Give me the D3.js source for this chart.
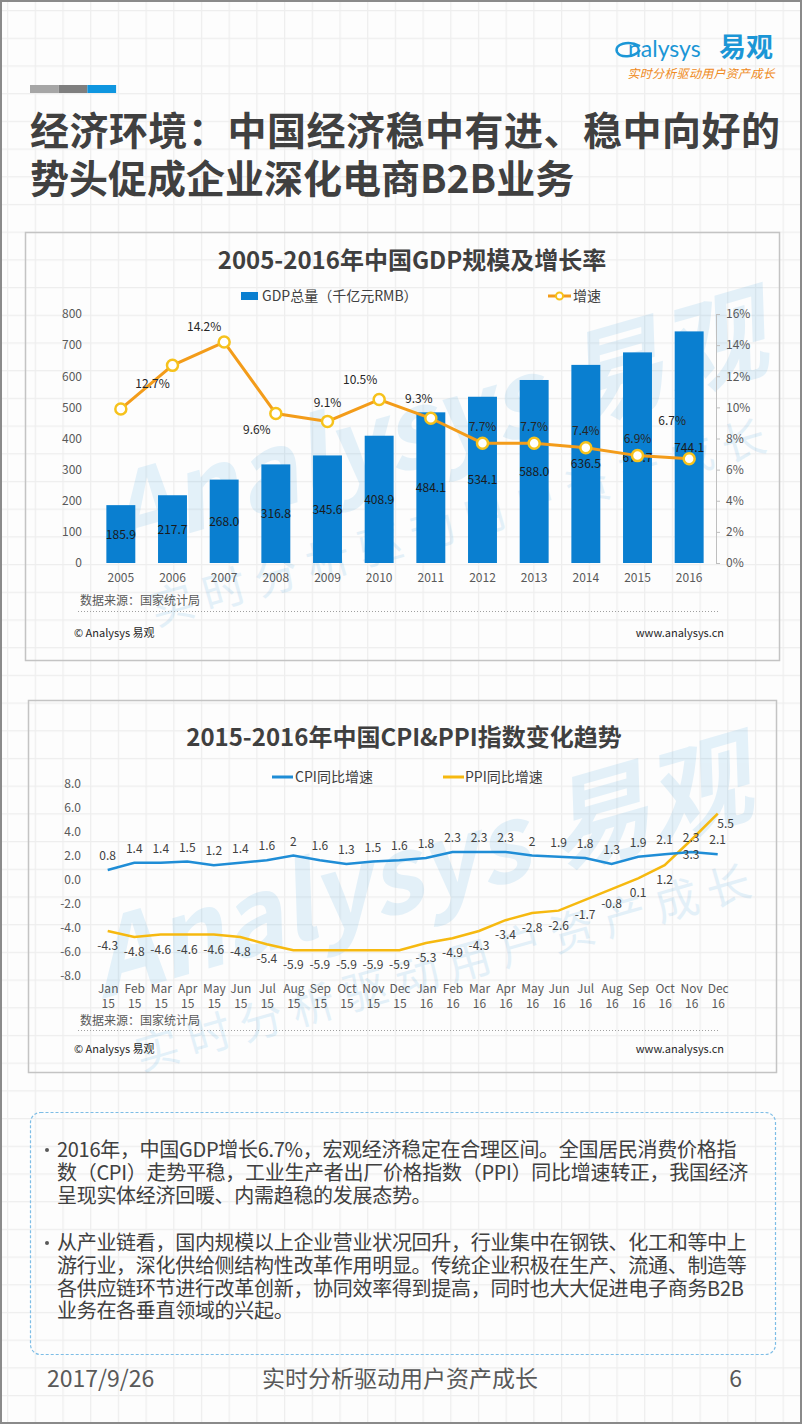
<!DOCTYPE html>
<html>
<head>
<meta charset="utf-8">
<script src="https://cdn.jsdelivr.net/npm/d3@7"></script>
<style>
  body { margin: 0; background: #fdfdfd; }
  svg { display: block; font-family: "Noto Sans CJK SC", "Noto Sans", sans-serif; }
</style>
</head>
<body>
<div id="page"></div>
<script>
// ---- data: GDP chart ----
const years = ["2005", "2006", "2007", "2008", "2009", "2010", "2011", "2012", "2013", "2014", "2015", "2016"];
const gdp = [185.9, 217.7, 268.0, 316.8, 345.6, 408.9, 484.1, 534.1, 588.0, 636.5, 676.7, 744.1];
const growth = [9.9, 12.7, 14.2, 9.6, 9.1, 10.5, 9.3, 7.7, 7.7, 7.4, 6.9, 6.7];
const gdpTicks = [0, 100, 200, 300, 400, 500, 600, 700, 800];
const growthTicks = [0, 2, 4, 6, 8, 10, 12, 14, 16];

// ---- data: CPI / PPI chart ----
const months = ["Jan 15", "Feb 15", "Mar 15", "Apr 15", "May 15", "Jun 15", "Jul 15", "Aug 15",
  "Sep 15", "Oct 15", "Nov 15", "Dec 15", "Jan 16", "Feb 16", "Mar 16", "Apr 16", "May 16",
  "Jun 16", "Jul 16", "Aug 16", "Sep 16", "Oct 16", "Nov 16", "Dec 16"];
const cpi = [0.8, 1.4, 1.4, 1.5, 1.2, 1.4, 1.6, 2, 1.6, 1.3, 1.5, 1.6, 1.8, 2.3, 2.3, 2.3, 2, 1.9, 1.8, 1.3, 1.9, 2.1, 2.3, 2.1];
const ppi = [-4.3, -4.8, -4.6, -4.6, -4.6, -4.8, -5.4, -5.9, -5.9, -5.9, -5.9, -5.9, -5.3, -4.9, -4.3, -3.4, -2.8, -2.6, -1.7, -0.8, 0.1, 1.2, 3.3, 5.5];
const indexTicks = [-8, -6, -4, -2, 0, 2, 4, 6, 8];

// label placement for the growth line (dx, dy from the point), null = no label
const growthLabelOffset = [null, [-20, 18], [-20, -16], [-19, 16], [0, -19], [-19, -20],
  [-12, -20], [0, -17], [0, -17], [0, -17], [0, -17], [-17, -38]];

const W = 802, H = 1424;
const textDark = "#404040", textGrey = "#595959";

const svg = d3.select("#page").append("svg")
  .attr("width", W)
  .attr("height", H);

// graph paper background
const defs = svg.append("defs");
const pat = defs.append("pattern")
  .attr("id", "paper")
  .attr("patternUnits", "userSpaceOnUse")
  .attr("x", 7).attr("y", 10)
  .attr("width", 27.7).attr("height", 27.7);
pat.append("rect").attr("width", 27.7).attr("height", 27.7).attr("fill", "#fdfdfd");
pat.append("path").attr("d", "M0,0V27.7M0,0H27.7").attr("stroke", "#eeeeee").attr("stroke-width", 2.5);

svg.append("rect").attr("width", W).attr("height", H).attr("fill", "url(#paper)");
svg.append("rect")
  .attr("x", 1).attr("y", 1).attr("width", W - 2).attr("height", H - 2)
  .attr("fill", "none").attr("stroke", "#8a8a8a").attr("stroke-width", 2);

// ---- header ----
const logo = svg.append("g");
logo.append("path")
  .attr("d", "M640,46 C628,40 614,44 617,52 C620,58 634,58 640,50")
  .attr("fill", "none").attr("stroke", "#1b96d6").attr("stroke-width", 2.5);
logo.append("text")
  .attr("x", 628).attr("y", 57)
  .attr("font-family", "Lato, 'Open Sans', sans-serif")
  .attr("font-size", 23).attr("fill", "#1b96d6")
  .text("nalysys");
logo.append("text")
  .attr("x", 719).attr("y", 57)
  .attr("font-size", 27).attr("font-weight", 700).attr("fill", "#1b96d6")
  .text("易观");
logo.append("text")
  .attr("x", 775).attr("y", 78)
  .attr("text-anchor", "end")
  .attr("font-size", 12).attr("font-style", "italic").attr("fill", "#ef8a21")
  .attr("letter-spacing", 0.3)
  .text("实时分析驱动用户资产成长");

const barColors = ["#a6a6a6", "#7f7f7f", "#0f96e0"];
barColors.forEach((c, i) => {
  svg.append("rect")
    .attr("x", 30 + i * 28.7).attr("y", 85)
    .attr("width", 28.7).attr("height", 8)
    .attr("fill", c);
});

svg.append("text")
  .attr("x", 30).attr("y", 145)
  .attr("font-size", 39).attr("font-weight", 700).attr("fill", textDark)
  .attr("textLength", 750)
  .text("经济环境：中国经济稳中有进、稳中向好的");
svg.append("text")
  .attr("x", 30).attr("y", 193)
  .attr("font-size", 39).attr("font-weight", 700).attr("fill", textDark)
  .text("势头促成企业深化电商B2B业务");

// ---- helpers ----
function panel(x, y, w, h, id) {
  defs.append("clipPath").attr("id", id)
    .append("rect").attr("x", x).attr("y", y).attr("width", w).attr("height", h);
  svg.append("rect")
    .attr("x", x).attr("y", y).attr("width", w).attr("height", h)
    .attr("fill", "none").attr("stroke", "#c4c4c4").attr("stroke-width", 1.5);
}

function watermark(cx, cy, clipId) {
  const g = svg.append("g")
    .attr("clip-path", `url(#${clipId})`)
    .append("g")
    .attr("transform", `translate(${cx},${cy}) rotate(-16)`)
    .attr("fill", "#1a8fd6")
    .attr("opacity", 0.11);
  g.append("text")
    .attr("text-anchor", "middle")
    .attr("font-size", 104).attr("font-weight", 700).attr("font-style", "italic")
    .text("Analysys 易观");
  g.append("text")
    .attr("y", 80)
    .attr("text-anchor", "middle")
    .attr("font-size", 44).attr("letter-spacing", 10)
    .text("实时分析驱动用户资产成长");
}

function footer(ySource, yLine, yCopy) {
  svg.append("text")
    .attr("x", 80).attr("y", ySource)
    .attr("font-size", 12).attr("fill", textGrey)
    .text("数据来源：国家统计局");
  svg.append("line")
    .attr("x1", 78).attr("x2", 720).attr("y1", yLine).attr("y2", yLine)
    .attr("stroke", "#a0a0a0").attr("stroke-dasharray", "1,2");
  svg.append("text")
    .attr("x", 74).attr("y", yCopy)
    .attr("font-size", 11).attr("fill", "#262626")
    .text("© Analysys 易观");
  svg.append("text")
    .attr("x", 724).attr("y", yCopy)
    .attr("text-anchor", "end")
    .attr("font-size", 11).attr("fill", "#262626")
    .text("www.analysys.cn");
}

function styleAxisText(g, size, color) {
  g.selectAll("text")
    .attr("font-size", size)
    .attr("fill", color)
    .attr("font-family", "'Noto Sans CJK SC', 'Noto Sans', sans-serif");
}

// ---- chart 1: GDP ----
panel(25.5, 232.5, 754, 428, "clip1");
watermark(445, 460, "clip1");

svg.append("text")
  .attr("x", 412).attr("y", 269)
  .attr("text-anchor", "middle")
  .attr("font-size", 24).attr("font-weight", 700).attr("fill", "#3f3f3f")
  .text("2005-2016年中国GDP规模及增长率");

const barBlue = "#0a7fd0", lineOrange = "#f39c1a", markerYellow = "#f6c21c";

// legend
svg.append("rect").attr("x", 241).attr("y", 292).attr("width", 17).attr("height", 8).attr("fill", barBlue);
svg.append("text").attr("x", 262).attr("y", 301)
  .attr("font-size", 14).attr("fill", textDark)
  .text("GDP总量（千亿元RMB）");
svg.append("line").attr("x1", 548).attr("x2", 571).attr("y1", 296).attr("y2", 296)
  .attr("stroke", lineOrange).attr("stroke-width", 3);
svg.append("circle").attr("cx", 559.5).attr("cy", 296).attr("r", 3.5)
  .attr("fill", "#fff").attr("stroke", markerYellow).attr("stroke-width", 2);
svg.append("text").attr("x", 573).attr("y", 301)
  .attr("font-size", 14).attr("fill", textDark)
  .text("增速");

const x1 = d3.scaleBand().domain(years).range([95, 715]).paddingInner(0.44).paddingOuter(0.22);
const yL = d3.scaleLinear().domain([0, 800]).range([563, 314]);
const yR = d3.scaleLinear().domain([0, 16]).range([563, 314]);

const axL = svg.append("g")
  .attr("transform", "translate(82,0)")
  .call(d3.axisLeft(yL).tickValues(gdpTicks).tickSize(0).tickPadding(0));
axL.select(".domain").remove();
styleAxisText(axL, 12, textGrey);

const axR = svg.append("g")
  .attr("transform", "translate(716,0)")
  .call(d3.axisRight(yR).tickValues(growthTicks).tickFormat(d => d + "%").tickSize(4).tickSizeOuter(0).tickPadding(6));
axR.select(".domain").attr("stroke", "#bfbfbf");
axR.selectAll(".tick line").attr("stroke", "#bfbfbf");
styleAxisText(axR, 12, textGrey);

const axX1 = svg.append("g")
  .attr("transform", "translate(0,563)")
  .call(d3.axisBottom(x1).tickSize(0).tickPadding(10));
axX1.select(".domain").remove();
styleAxisText(axX1, 12, textGrey);

svg.selectAll(".gdp-bar")
  .data(years)
  .enter()
  .append("rect")
  .attr("class", "gdp-bar")
  .attr("x", d => x1(d))
  .attr("y", (d, i) => yL(gdp[i]))
  .attr("width", x1.bandwidth())
  .attr("height", (d, i) => yL(0) - yL(gdp[i]))
  .attr("fill", barBlue);

svg.selectAll(".gdp-label")
  .data(years)
  .enter()
  .append("text")
  .attr("class", "gdp-label")
  .attr("x", d => x1(d) + x1.bandwidth() / 2)
  .attr("y", (d, i) => (yL(gdp[i]) + yL(0)) / 2 + 4.5)
  .attr("text-anchor", "middle")
  .attr("font-size", 12).attr("fill", "#1a1a1a")
  .text((d, i) => gdp[i].toFixed(1));

const cx1 = d => x1(d) + x1.bandwidth() / 2;
const growthLine = d3.line()
  .x(d => cx1(d))
  .y((d, i) => yR(growth[i]));

svg.append("path")
  .datum(years)
  .attr("fill", "none")
  .attr("stroke", lineOrange)
  .attr("stroke-width", 3)
  .attr("d", growthLine);

svg.selectAll(".growth-dot")
  .data(years)
  .enter()
  .append("circle")
  .attr("class", "growth-dot")
  .attr("cx", d => cx1(d))
  .attr("cy", (d, i) => yR(growth[i]))
  .attr("r", 5.5)
  .attr("fill", "#fff")
  .attr("stroke", markerYellow)
  .attr("stroke-width", 2.5);

svg.selectAll(".growth-label")
  .data(years.filter((d, i) => growthLabelOffset[i]))
  .enter()
  .append("text")
  .attr("class", "growth-label")
  .attr("x", d => cx1(d) + growthLabelOffset[years.indexOf(d)][0])
  .attr("y", d => yR(growth[years.indexOf(d)]) + growthLabelOffset[years.indexOf(d)][1] + 4.5)
  .attr("text-anchor", "middle")
  .attr("font-size", 12).attr("fill", "#262626")
  .text(d => growth[years.indexOf(d)].toFixed(1) + "%");

footer(605, 611.5, 637);

// ---- chart 2: CPI & PPI ----
panel(28.5, 700.5, 748, 372, "clip2");
watermark(430, 905, "clip2");

svg.append("text")
  .attr("x", 404).attr("y", 746)
  .attr("text-anchor", "middle")
  .attr("font-size", 24).attr("font-weight", 700).attr("fill", "#3f3f3f")
  .text("2015-2016年中国CPI&PPI指数变化趋势");

const cpiBlue = "#1f8dd6", ppiYellow = "#f6b910";

svg.append("line").attr("x1", 272).attr("x2", 293).attr("y1", 777).attr("y2", 777)
  .attr("stroke", cpiBlue).attr("stroke-width", 3);
svg.append("text").attr("x", 295).attr("y", 782)
  .attr("font-size", 14).attr("fill", textDark)
  .text("CPI同比增速");
svg.append("line").attr("x1", 443).attr("x2", 464).attr("y1", 777).attr("y2", 777)
  .attr("stroke", ppiYellow).attr("stroke-width", 3);
svg.append("text").attr("x", 465).attr("y", 782)
  .attr("font-size", 14).attr("fill", textDark)
  .text("PPI同比增速");

const x2 = d3.scalePoint().domain(months).range([107.7, 717.7]);
const y2 = d3.scaleLinear().domain([-8, 8]).range([975.3, 783.7]);

const axY2 = svg.append("g")
  .attr("transform", "translate(81,0)")
  .call(d3.axisLeft(y2).tickValues(indexTicks).tickFormat(d => d.toFixed(1)).tickSize(0).tickPadding(0));
axY2.select(".domain").remove();
styleAxisText(axY2, 12, textGrey);

const axX2 = svg.append("g")
  .attr("transform", "translate(0,975)")
  .call(d3.axisBottom(x2).tickSize(0).tickPadding(9));
axX2.select(".domain").remove();
axX2.selectAll(".tick text").each(function(d) {
  const parts = d.split(" ");
  const t = d3.select(this).text(null);
  t.append("tspan").attr("x", 0).text(parts[0]);
  t.append("tspan").attr("x", 0).attr("dy", "1.25em").text(parts[1]);
});
styleAxisText(axX2, 12, textGrey);

const cpiLine = d3.line().x(d => x2(d)).y((d, i) => y2(cpi[i]));
const ppiLine = d3.line().x(d => x2(d)).y((d, i) => y2(ppi[i]));

svg.append("path").datum(months)
  .attr("fill", "none").attr("stroke", ppiYellow).attr("stroke-width", 2.5)
  .attr("d", ppiLine);
svg.append("path").datum(months)
  .attr("fill", "none").attr("stroke", cpiBlue).attr("stroke-width", 2.5)
  .attr("d", cpiLine);

svg.selectAll(".cpi-label")
  .data(months)
  .enter()
  .append("text")
  .attr("class", "cpi-label")
  .attr("x", d => x2(d))
  .attr("y", (d, i) => y2(cpi[i]) - 10)
  .attr("text-anchor", "middle")
  .attr("font-size", 12).attr("fill", textDark)
  .text((d, i) => String(cpi[i]));

const lastMonth = months[months.length - 1];
svg.selectAll(".ppi-label")
  .data(months)
  .enter()
  .append("text")
  .attr("class", "ppi-label")
  .attr("x", d => x2(d) + (d === lastMonth ? 8 : 0))
  .attr("y", (d, i) => y2(ppi[i]) + (d === lastMonth ? 14 : 19))
  .attr("text-anchor", "middle")
  .attr("font-size", 12).attr("fill", textDark)
  .text((d, i) => String(ppi[i]));

footer(1025, 1030.5, 1053);

// ---- summary box ----
svg.append("rect")
  .attr("x", 30.5).attr("y", 1112.5).attr("width", 745).attr("height", 242)
  .attr("rx", 10)
  .attr("fill", "none").attr("stroke", "#7dbde6").attr("stroke-width", 1.2)
  .attr("stroke-dasharray", "3,2");

const bullets = [
  ["2016年，中国GDP增长6.7%，宏观经济稳定在合理区间。全国居民消费价格指",
   "数（CPI）走势平稳，工业生产者出厂价格指数（PPI）同比增速转正，我国经济",
   "呈现实体经济回暖、内需趋稳的发展态势。"],
  ["从产业链看，国内规模以上企业营业状况回升，行业集中在钢铁、化工和等中上",
   "游行业，深化供给侧结构性改革作用明显。传统企业积极在生产、流通、制造等",
   "各供应链环节进行改革创新，协同效率得到提高，同时也大大促进电子商务B2B",
   "业务在各垂直领域的兴起。"]
];
const bulletTop = [1157, 1250];
bullets.forEach((lines, b) => {
  svg.append("circle")
    .attr("cx", 47).attr("cy", bulletTop[b] - 7)
    .attr("r", 2)
    .attr("fill", textGrey);
  lines.forEach((line, j) => {
    svg.append("text")
      .attr("x", 57).attr("y", bulletTop[b] + j * 22.8)
      .attr("font-size", 20).attr("fill", textDark)
      .attr("letter-spacing", -0.3)
      .text(line);
  });
});

// ---- page footer ----
svg.append("text").attr("x", 47).attr("y", 1387)
  .attr("font-size", 23).attr("fill", textGrey)
  .text("2017/9/26");
svg.append("text").attr("x", 400).attr("y", 1387)
  .attr("text-anchor", "middle")
  .attr("font-size", 23).attr("fill", textGrey)
  .text("实时分析驱动用户资产成长");
svg.append("text").attr("x", 742).attr("y", 1387)
  .attr("text-anchor", "end")
  .attr("font-size", 23).attr("fill", textGrey)
  .text("6");
</script>
</body>
</html>
